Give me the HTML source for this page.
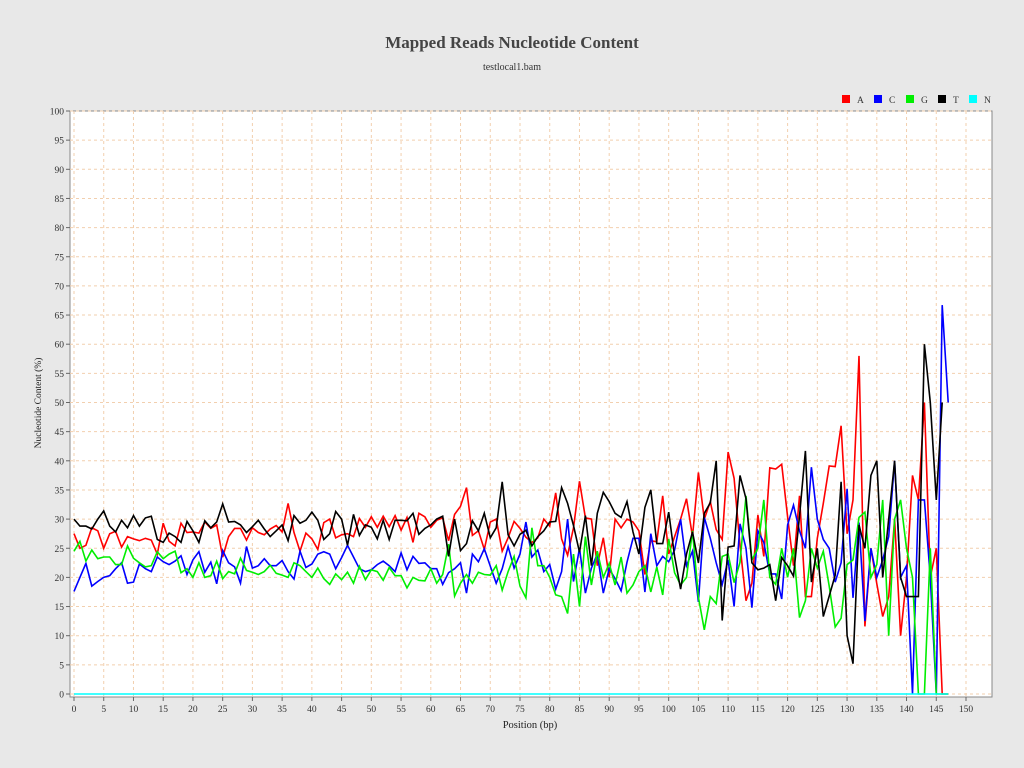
<!DOCTYPE html>
<html><head><meta charset="utf-8"><style>
body{margin:0;background:#e8e8e8;font-family:"Liberation Serif",serif;}
svg{display:block}
</style></head><body>
<svg id="chart" width="1024" height="768">
<rect x="0" y="0" width="1024" height="768" fill="#e8e8e8"/>
<text x="512" y="48" text-anchor="middle" font-size="17" font-weight="bold" fill="#444">Mapped Reads Nucleotide Content</text>
<text x="512" y="70" text-anchor="middle" font-size="10" fill="#333">testlocal1.bam</text>
<rect x="70" y="111" width="922" height="586" fill="#fff" stroke="#888"/>
<g id="grid"></g><g id="axes"></g><g id="series"></g><g id="legend"></g>
<text x="0" y="0" transform="translate(41,403) rotate(-90)" text-anchor="middle" font-size="9.5" fill="#222">Nucleotide Content (%)</text>
<text x="530" y="728" text-anchor="middle" font-size="10.5" fill="#222">Position (bp)</text>
</svg>
<script>
const seriesNames=["A","C","G","T","N"];
const seriesColors=["#ff0000","#0000ff","#00ee00","#000000","#00ffff"];
const xTicks=[0,5,10,15,20,25,30,35,40,45,50,55,60,65,70,75,80,85,90,95,100,105,110,115,120,125,130,135,140,145,150];
const yTicks=[0,5,10,15,20,25,30,35,40,45,50,55,60,65,70,75,80,85,90,95,100];
const valuesA=[27.5,25,25.5,28.5,28,25,27.5,27.9,25.2,27,26.6,26.3,26.7,26.4,24,29.3,26.2,25.4,29.3,27.7,27.8,27.6,29.5,28.4,29,23.5,27,28.4,28.4,26.4,28.5,27.7,27.3,28.3,28.9,27.8,32.7,27.7,24.5,27.6,26.6,24.8,29.4,30,26.8,27.3,27.5,27,30.1,28.6,30.4,28.6,30.5,28.7,30.6,28.1,30.3,26,31,30.4,28.6,29.8,30.2,26.3,30.8,32.2,35.4,27.2,28,24.8,29.5,30,24.5,26.8,29.6,28.4,26.9,26,26.8,30,28.8,34.5,26.6,23.8,28.5,36.5,30.2,30,22,26.8,20,30,28.5,30,29.5,28,20.5,26.3,26.1,34,24,27,30,33.5,27,38,30,33,28.2,26.5,41.5,37,25.5,16,19,30.7,23.6,38.8,38.6,39.4,30.4,22,34,16.7,16.7,26.7,32.7,39.1,39,46,27.5,33.3,58,11.6,25,18.9,13.3,16.7,30,10,20,37.5,33.3,50,20,25,0,0];
const valuesC=[17.6,20,22.4,18.5,19.3,20,20.3,21.5,22.5,19,19.2,22.3,21.5,21,23.5,22.7,22.2,22.8,23.7,20.5,23,24.4,20.9,22.6,18.9,24.6,22.5,21.8,19,25.3,21.6,22,23.2,22,22,22.9,21,19.7,24.5,21.7,22.3,24,24.4,24,21.5,23.4,25.5,23.5,21.5,21,21.3,22.2,22.8,22,21,24.2,21.3,23.6,22.4,22.5,21.5,21.5,18.8,20.8,21.5,22.5,17.3,24,22.7,24.9,21.9,19,21.5,25.3,21.6,24,29.5,23.5,24.7,21,22.2,18,21,30,19.3,25,17.3,21.6,24,17.3,21.5,19.8,17.7,22.6,26.7,26.7,17.5,27.5,22,23.6,22.7,24.7,30,22,24.5,15.8,30.3,26.7,22.5,18.8,23,15,29.2,25,14.8,28,26,20.6,20.6,16.3,29,32.4,28,25,38.9,30,26.5,25,19.2,22.5,35.2,16.5,29.4,12.5,25,20,23,27,40,20,22,0,33.3,33.3,20,0,66.7,50];
const valuesG=[24.5,26.2,22.8,24.7,23.2,23.5,23.5,22.2,22.2,25.4,23.3,22.5,21.8,22,24.4,23.2,24,24.5,20.8,21.5,20,22.5,20,20.3,22.8,19.8,21,20.6,23.3,21.2,20.9,20.5,21,22.1,20.7,20.4,20,22.5,22,21,20,21.6,19.8,18.8,20.6,19.6,20.9,19,21.9,19.6,21.3,21,19.5,21.7,20.3,20.3,18.2,20,19.5,19.4,21.5,19,20.5,25.7,16.8,19,20.5,19,20.9,20.5,20.4,22,17.8,21,23.6,18.5,16.5,28.5,22,22,20,17,16.7,13.8,24,15,27,18.7,24.5,20,22.4,18.7,23.5,17.3,18.7,21,22,17.5,21.8,17,26.6,20.8,18.7,20,28,16.6,11,16.7,15.5,23.6,24,19.1,22.6,34,23,25,33.3,20,18.8,25,20,25,13.1,16,25,21.6,24.5,18.5,11.5,13,22.2,23,30.3,31.2,20,22.2,33.3,10,30,33.3,25,20,0,0,25,0,0,0];
const valuesT=[30,28.8,28.8,28.3,30,31.4,28.8,27.8,29.8,28.5,30.6,28.8,30.2,30.5,26.5,26,27.6,27,26,29.6,28,26,29.7,28.5,29.5,32.6,29.5,29.6,29,27.7,28.7,29.8,28.3,27,28,29,26.3,30.6,29.3,29.8,31.2,29.8,26.5,27.5,31.3,30,25.5,30.8,27.2,29,28.6,26.6,29.8,26.5,29.8,29.8,29.7,31,27.4,28.4,29,30,30.5,23.6,30,24.6,25.8,29.7,28,31,26.8,28.5,36.4,27.3,25.4,27.4,28.1,25.4,27,28,29.5,29.6,35.4,32.7,28.9,24.3,30.6,22,31,34.6,33,31,30.3,33,27.8,24,32,35,25.8,25.8,31.2,23.6,18,24,27.8,22.5,31,32.8,40,12.6,25.2,25.4,37.5,33.5,22.5,21.3,21.6,22.2,16,23.4,22,20.2,30.5,41.7,19.2,25,13.3,16.8,20.4,36.4,10,5.2,29,25,37.5,40,20,30,40,20,16.7,16.7,16.7,60,50,33.3,50];
const valuesN=new Array(148).fill(0);
const NS="http://www.w3.org/2000/svg";
const X0=74,XW=892/150,Y0=694,YH=583/100;
const xs=v=>X0+v*XW, ys=v=>Y0-v*YH;
function mk(tag,attrs,parent){const e=document.createElementNS(NS,tag);for(const k in attrs)e.setAttribute(k,attrs[k]);parent.appendChild(e);return e;}
const grid=document.getElementById('grid'),axes=document.getElementById('axes');
yTicks.forEach(t=>{
  const l=mk('line',{x1:70,x2:992,y1:ys(t),y2:ys(t),stroke:'#f2cfae','stroke-dasharray':'3,3','stroke-width':1},grid);
  
  
  const tk=mk('line',{x1:66,x2:70,y1:ys(t),y2:ys(t),stroke:'#666'},axes);
  
  
  const tx=mk('text',{x:64,y:ys(t)+3.5,'text-anchor':'end','font-size':9.5,fill:'#333'},axes);
  tx.textContent=t;
  
  
});
xTicks.forEach(t=>{
  const l=mk('line',{x1:xs(t),x2:xs(t),y1:111,y2:697,stroke:'#f2cfae','stroke-dasharray':'3,3','stroke-width':1},grid);
  
  
  const tk=mk('line',{x1:xs(t),x2:xs(t),y1:697,y2:701,stroke:'#666'},axes);
  
  
  const tx=mk('text',{x:xs(t),y:712,'text-anchor':'middle','font-size':9.5,fill:'#333'},axes);
  tx.textContent=t;
  
  
});
const sg=document.getElementById('series');
const allVals=[valuesA,valuesC,valuesG,valuesT,valuesN];
allVals.forEach((vals,i)=>{
  const pts=vals.map((v,j)=>xs(j).toFixed(1)+','+ys(v).toFixed(1)).join(' ');
  const p=mk('polyline',{points:pts,fill:'none',stroke:seriesColors[i],'stroke-width':1.6,'stroke-linejoin':'miter'},sg);
  
  
});
const lg=document.getElementById('legend');
const lx=[842,874,906,938,969];
seriesNames.forEach((n,i)=>{
  const r=mk('rect',{x:lx[i],y:95,width:8,height:8,fill:seriesColors[i]},lg);
  
  
  const t=mk('text',{x:lx[i]+15,y:103,'font-size':9.5,fill:'#333'},lg);
  t.textContent=n;
  
  
});
</script>
</body></html>
